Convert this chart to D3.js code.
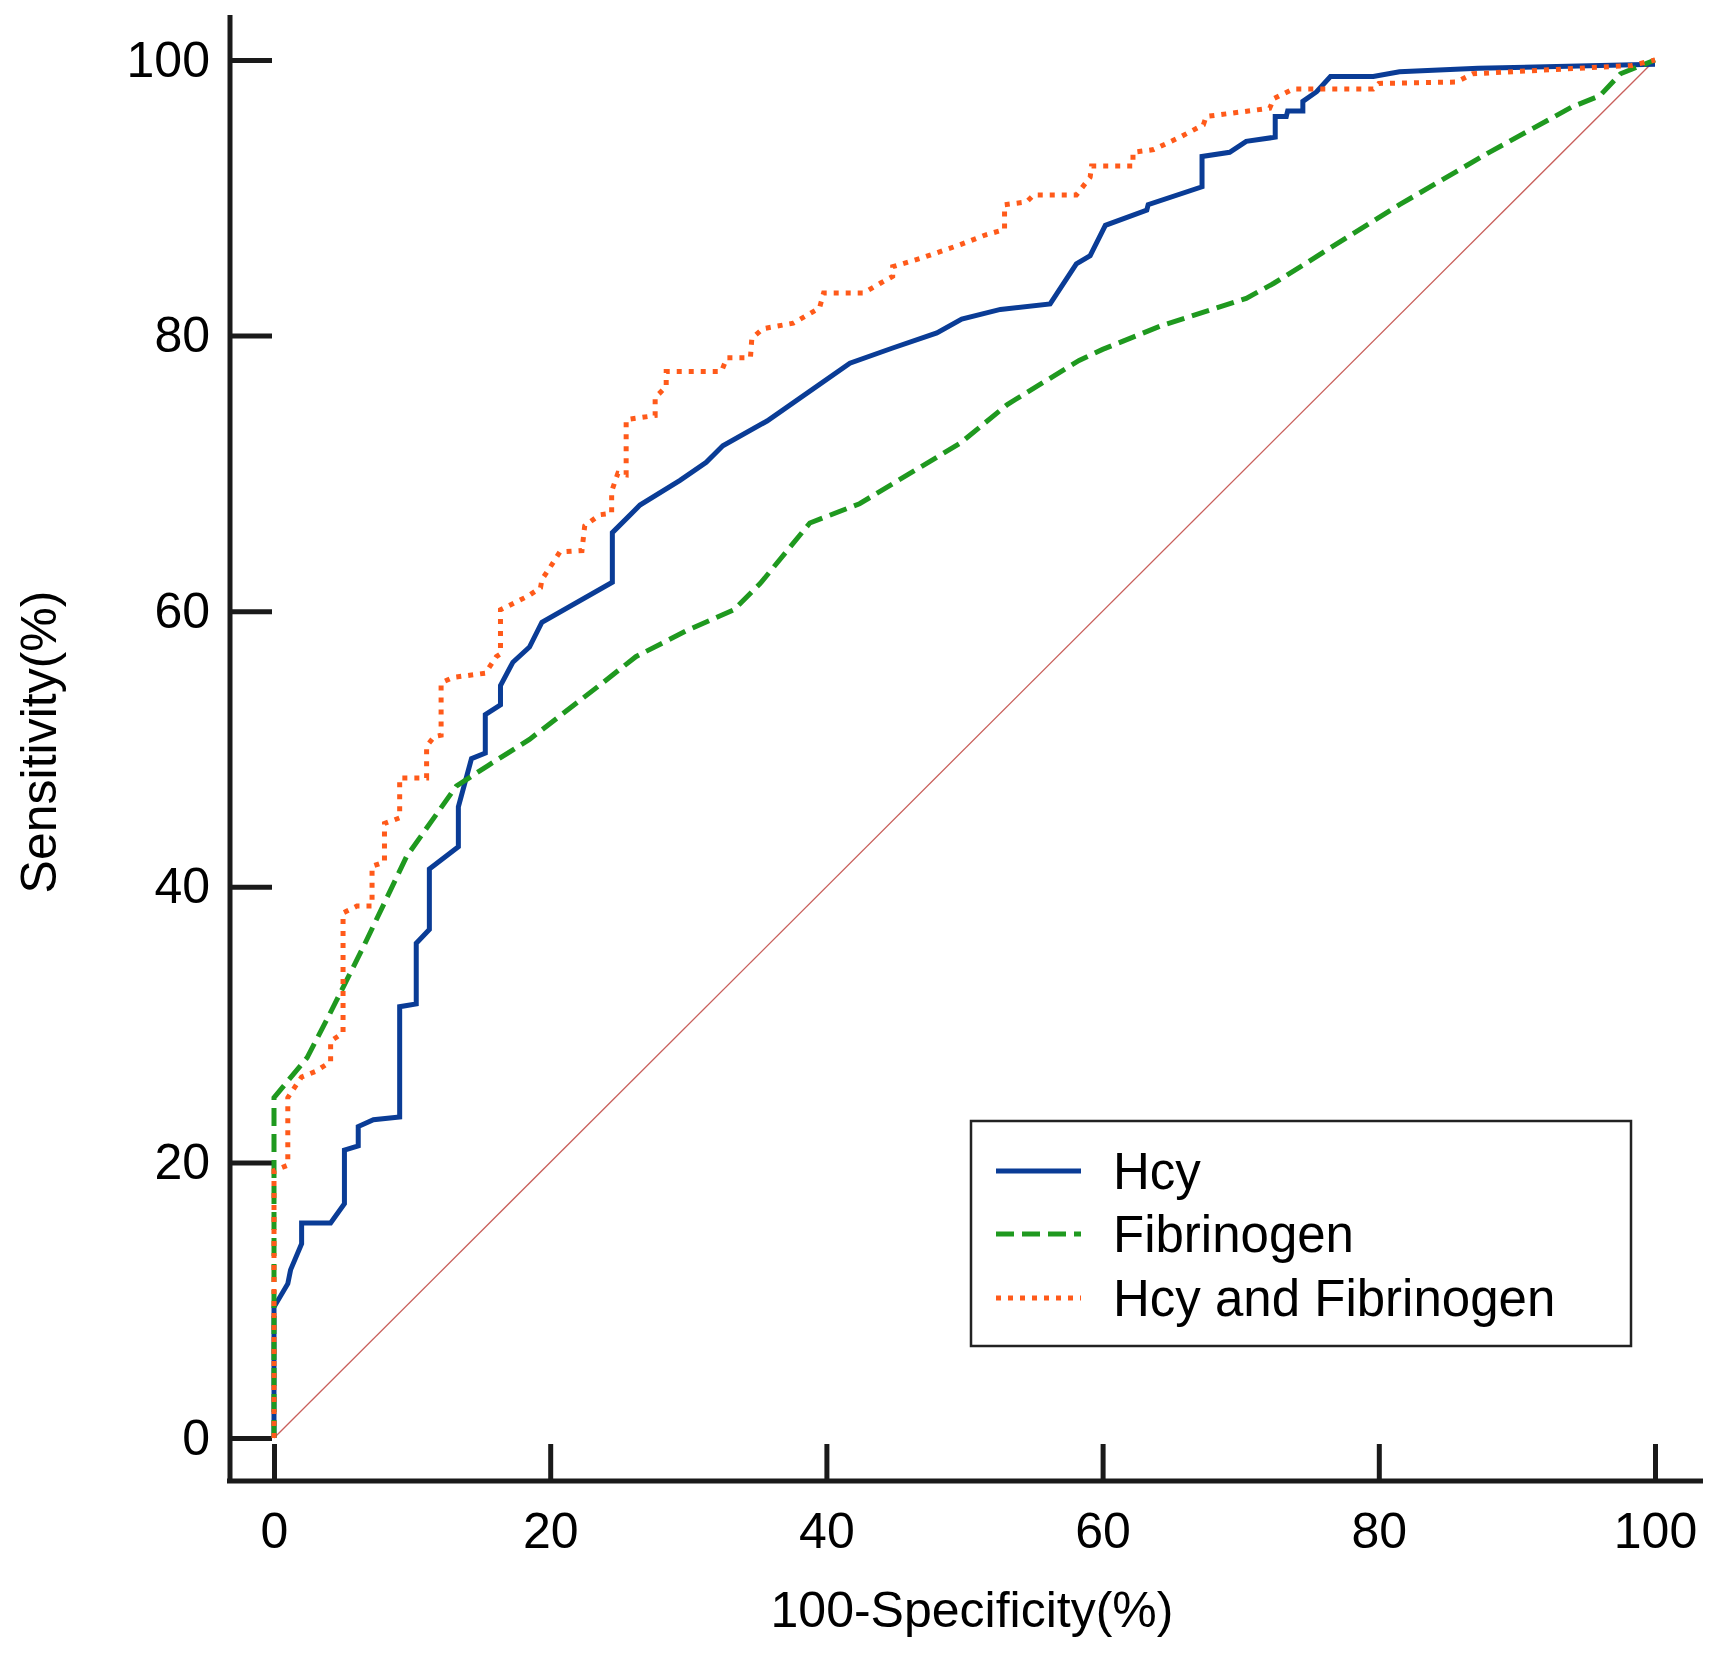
<!DOCTYPE html>
<html>
<head>
<meta charset="utf-8">
<script src="https://cdn.jsdelivr.net/npm/d3@7"></script>
<style>
    body { margin: 0; background: #fff; }
    text { font-family: Arial, "Liberation Sans", sans-serif; fill: #000; }
</style>
</head>
<body>
<div id="chart"></div>
<script>
var xTicks = [0, 20, 40, 60, 80, 100];
var yTicks = [0, 20, 40, 60, 80, 100];
var seriesNames = ["Hcy", "Fibrinogen", "Hcy and Fibrinogen"];

// Hcy
var hcyX = [0, 0, 1.0, 1.2, 2.0, 2.0, 4.1, 5.1, 5.1, 6.1, 6.1, 7.2, 9.1, 9.1, 10.3, 10.3, 11.25, 11.25, 13.35, 13.35,
    14.3, 15.3, 15.3, 16.4, 16.4, 17.3, 18.5, 19.4, 24.5, 24.5, 26.5, 29.4, 31.3, 32.5, 35.7, 41.7, 44.8, 48.0, 49.8,
    52.6, 56.2, 58.1, 59.1, 60.2, 63.2, 63.3, 67.2, 67.2, 69.2, 70.4, 72.5, 72.5, 73.3, 73.4, 74.5, 74.5, 75.5, 76.5,
    79.6, 81.5, 87.2, 100];
var hcyY = [0, 9.5, 11.2, 12.2, 14.1, 15.6, 15.6, 17.0, 20.9, 21.2, 22.6, 23.1, 23.3, 31.3, 31.5, 35.9, 36.9, 41.3, 42.9, 45.8,
    49.3, 49.7, 52.5, 53.2, 54.6, 56.3, 57.4, 59.2, 62.1, 65.7, 67.7, 69.5, 70.8, 72.0, 73.8, 78.0, 79.1, 80.2, 81.2,
    81.9, 82.3, 85.2, 85.8, 88.0, 89.1, 89.5, 90.8, 93.0, 93.3, 94.1, 94.4, 95.9, 95.9, 96.3, 96.3, 97.0, 97.7, 98.8,
    98.8, 99.15, 99.4, 99.7];

// Fibrinogen
var fibX = [0, 0, 2.4, 4.05, 6.5, 9.6, 13.2, 15.5, 18.5, 23.8, 26.2, 29.9, 33.3, 35.2, 38.8, 42.4, 49.7, 53.1, 58.3, 60.0,
    64.2, 70.4, 72.4, 81.5, 88, 94, 96, 97.5, 100];
var fibY = [0, 24.7, 27.6, 30.8, 35.7, 42.2, 47.3, 48.8, 50.7, 54.8, 56.7, 58.6, 60.1, 62.0, 66.4, 67.8, 72.2, 75.0, 78.2, 79.0,
    80.7, 82.7, 83.8, 89.5, 93.3, 96.6, 97.4, 99.0, 100];

// Hcy and Fibrinogen
var combX = [0, 0, 1.0, 1.0, 2.0, 3.0, 4.1, 4.1, 5.0, 5.0, 6.0, 7.1, 7.1, 8.0, 8.0, 9.1, 9.1, 11.05, 11.05, 11.6, 12.1, 12.1,
    13.0, 15.3, 16.1, 16.4, 16.4, 18.4, 19.3, 19.4, 20.0, 20.7, 22.3, 22.5, 23.6, 24.45, 24.45, 24.9, 25.5, 25.5, 27.6,
    27.6, 28.4, 28.4, 32.4, 32.8, 34.5, 34.6, 35.4, 37.6, 39.5, 39.8, 42.7, 43.9, 44.8, 44.8, 46.8, 49.7, 51.5, 52.9,
    52.9, 54.5, 55.0, 58.1, 59.1, 59.2, 62.2, 62.2, 63.7, 65.6, 67.3, 67.5, 72.1, 72.4, 73.8, 79.6, 80.0, 85.6, 86.8,
    98.3, 100];
var combY = [0, 19.4, 19.8, 24.7, 26.2, 26.6, 27.3, 28.8, 29.4, 38.1, 38.6, 38.6, 41.5, 41.8, 44.6, 45.0, 47.9, 47.9, 50.2, 50.9, 51.0, 54.8,
    55.2, 55.5, 56.7, 56.9, 60.1, 61.1, 61.7, 62.3, 63.2, 64.3, 64.4, 66.2, 67.0, 67.1, 68.7, 70.0, 69.9, 73.9, 74.2,
    75.5, 76.3, 77.4, 77.4, 78.4, 78.4, 79.8, 80.5, 80.9, 82.0, 83.1, 83.1, 83.8, 84.3, 85.0, 85.6, 86.6, 87.3, 87.7,
    89.5, 89.7, 90.2, 90.2, 91.5, 92.3, 92.3, 93.3, 93.5, 94.4, 95.3, 95.9, 96.5, 97.2, 97.9, 97.9, 98.3, 98.4, 99.0,
    99.6, 100];

var W = 1716, H = 1653;
var svg = d3.select("#chart").append("svg")
    .attr("width", W)
    .attr("height", H);

var x = d3.scaleLinear().domain([0, 100]).range([274, 1655]);
var y = d3.scaleLinear().domain([0, 100]).range([1438, 60]);

var axisColor = "#1a1a1a";
var leftX = 230, bottomY = 1481;

// axis lines (they run past the data range)
svg.append("line")
    .attr("x1", leftX).attr("x2", leftX)
    .attr("y1", 15).attr("y2", bottomY + 2)
    .attr("stroke", axisColor).attr("stroke-width", 5);
svg.append("line")
    .attr("x1", leftX - 3).attr("x2", 1703)
    .attr("y1", bottomY).attr("y2", bottomY)
    .attr("stroke", axisColor).attr("stroke-width", 5);

var yAxis = svg.append("g")
    .attr("transform", `translate(${leftX},0)`)
    .call(d3.axisLeft(y).tickValues(yTicks).tickSizeInner(-42).tickSizeOuter(0).tickPadding(20));
var xAxis = svg.append("g")
    .attr("transform", `translate(0,${bottomY})`)
    .call(d3.axisBottom(x).tickValues(xTicks).tickSizeInner(-37).tickSizeOuter(0).tickPadding(31));

[yAxis, xAxis].forEach(g => {
    g.select(".domain").remove();
    g.selectAll(".tick line").attr("stroke", axisColor).attr("stroke-width", 5);
    g.selectAll(".tick text")
        .attr("font-size", 50)
        .attr("font-family", "Arial, 'Liberation Sans', sans-serif")
        .attr("fill", "#000");
});

// axis titles
svg.append("text")
    .attr("x", 972)
    .attr("y", 1627)
    .attr("text-anchor", "middle")
    .attr("font-size", 50)
    .text("100-Specificity(%)");
svg.append("text")
    .attr("transform", "translate(56,742) rotate(-90)")
    .attr("text-anchor", "middle")
    .attr("font-size", 50)
    .text("Sensitivity(%)");

// reference diagonal
svg.append("line")
    .attr("x1", x(0)).attr("y1", y(0))
    .attr("x2", x(100)).attr("y2", y(100))
    .attr("stroke", "#c9605c")
    .attr("stroke-width", 1.3);

var series = [
    { name: seriesNames[0], xs: hcyX, ys: hcyY, color: "#0a3c96", dash: null },
    { name: seriesNames[1], xs: fibX, ys: fibY, color: "#1f991f", dash: "18,8" },
    { name: seriesNames[2], xs: combX, ys: combY, color: "#ff5a1a", dash: "5,7" }
];

var line = d3.line()
    .x(d => x(d[0]))
    .y(d => y(d[1]));

series.forEach(s => {
    var pts = s.xs.map((v, i) => [v, s.ys[i]]);
    svg.append("path")
        .datum(pts)
        .attr("d", line)
        .attr("fill", "none")
        .attr("stroke", s.color)
        .attr("stroke-width", 5)
        .attr("stroke-linejoin", "miter")
        .attr("stroke-dasharray", s.dash);
});

// legend
var legend = svg.append("g");
legend.append("rect")
    .attr("x", 971).attr("y", 1121)
    .attr("width", 660).attr("height", 225)
    .attr("fill", "#fff")
    .attr("stroke", "#222")
    .attr("stroke-width", 2.5);

var rowY = [1171, 1234, 1298];
series.forEach((s, i) => {
    legend.append("line")
        .attr("x1", 996).attr("x2", 1081)
        .attr("y1", rowY[i]).attr("y2", rowY[i])
        .attr("stroke", s.color)
        .attr("stroke-width", 5)
        .attr("stroke-dasharray", s.dash);
    legend.append("text")
        .attr("x", 1113)
        .attr("y", rowY[i] + 18)
        .attr("font-size", 51)
        .text(s.name);
});
</script>
</body>
</html>
